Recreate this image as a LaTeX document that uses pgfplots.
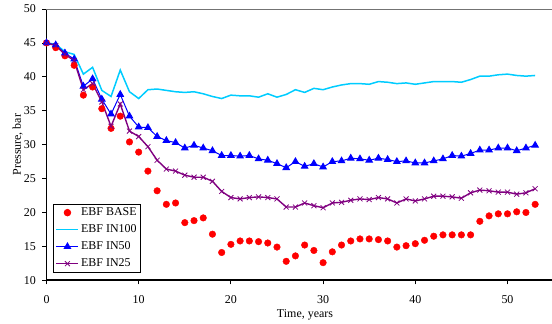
\documentclass[border=0pt]{standalone}
\usepackage{pgfplots}
\pgfplotsset{compat=1.18}
\usepackage{fontspec}
\setmainfont{Liberation Serif}
\definecolor{c100}{RGB}{0,204,255}
\definecolor{c50}{RGB}{0,0,255}
\definecolor{c25}{RGB}{128,0,128}
\begin{document}
\begin{tikzpicture}
\begin{axis}[
  scale only axis,
  width=507.1bp, height=271.3bp,
  xmin=0, xmax=55, ymin=10, ymax=50,
  axis lines=left,
  axis line style={-},
  x axis line style={line width=2bp},
  y axis line style={line width=1bp},
  xtick={0,10,20,30,40,50},
  ytick={10,15,20,25,30,35,40,45,50},
  tick align=outside,
  major tick length=4bp,
  tick style={black, line width=0.8bp},
  /pgf/number format/assume math mode=true,
  tick label style={font=\fontsize{12}{13}\selectfont},
  xticklabel style={anchor=base, yshift=-19bp, inner sep=0pt},
  yticklabel style={anchor=east, xshift=-6.5bp, inner sep=0pt},
  xlabel={Time, years},
  ylabel={Pressure, bar},
  xlabel style={at={(rel axis cs:0,0)}, anchor=base, xshift=258.5bp, yshift=-36.7bp, font=\fontsize{12}{13}\selectfont, inner sep=0pt},
  ylabel style={at={(rel axis cs:0,0.5)}, anchor=south, yshift=23.5bp, font=\fontsize{12}{13}\selectfont, inner sep=0pt},
  clip=false,
  legend cell align=left,
  legend style={at={(rel axis cs:0,0)}, anchor=south west, xshift=6.8bp, yshift=8bp,
    font=\fontsize{12}{13}\selectfont, draw=black, line width=0.8bp, fill=white,
    inner xsep=2bp, inner ysep=1.5bp, row sep=3.6bp},
  legend image code/.code={\draw[mark repeat=2,mark phase=2,#1] plot coordinates {(0bp,0bp) (11bp,0bp) (22bp,0bp)};},
]
\coordinate (ll) at (rel axis cs:0,0);
\draw[gray!90!black, line width=1bp] (rel axis cs:0,1) -- (rel axis cs:1,1);
\addplot[only marks, mark=*, mark size=3.3bp, color=red] coordinates {
(0,45.0) (1,44.3) (2,43.1) (3,41.7) (4,37.3) (5,38.5) (6,35.3) (7,32.4) (8,34.2) (9,30.4)
(10,28.9) (11,26.1) (12,23.2) (13,21.2) (14,21.4) (15,18.5) (16,18.8) (17,19.2) (18,16.8) (19,14.1)
(20,15.3) (21,15.8) (22,15.8) (23,15.7) (24,15.5) (25,14.9) (26,12.8) (27,13.6) (28,15.2) (29,14.4)
(30,12.6) (31,14.2) (32,15.2) (33,15.8) (34,16.1) (35,16.1) (36,16.0) (37,15.8) (38,14.9) (39,15.1)
(40,15.4) (41,15.9) (42,16.5) (43,16.7) (44,16.7) (45,16.7) (46,16.7) (47,18.7) (48,19.5) (49,19.8)
(50,19.8) (51,20.1) (52,20.0) (53,21.2)
};
\addlegendentry{EBF BASE}
\addplot[no marks, color=c100, line width=1.5bp] coordinates {
(0,45.0) (1,44.8) (2,43.7) (3,43.3) (4,40.4) (5,41.4) (6,38.0) (7,37.1) (8,41.0) (9,37.8)
(10,36.8) (11,38.1) (12,38.2) (13,38.0) (14,37.8) (15,37.7) (16,37.8) (17,37.5) (18,37.1) (19,36.8)
(20,37.3) (21,37.2) (22,37.2) (23,37.0) (24,37.5) (25,37.0) (26,37.4) (27,38.1) (28,37.7) (29,38.3)
(30,38.1) (31,38.5) (32,38.8) (33,39.0) (34,39.0) (35,38.9) (36,39.3) (37,39.2) (38,39.0) (39,39.1)
(40,38.9) (41,39.1) (42,39.3) (43,39.3) (44,39.3) (45,39.2) (46,39.6) (47,40.1) (48,40.1) (49,40.3)
(50,40.4) (51,40.2) (52,40.1) (53,40.2)
};
\addlegendentry{EBF IN100}
\addplot[color=c50, line width=1bp, mark=triangle*, mark size=3.6bp, mark options={solid}] coordinates {
(0,45.0) (1,44.7) (2,43.5) (3,42.6) (4,38.6) (5,39.7) (6,36.7) (7,34.5) (8,37.4) (9,34.2)
(10,32.6) (11,32.5) (12,31.2) (13,30.6) (14,30.3) (15,29.5) (16,29.9) (17,29.5) (18,29.1) (19,28.4)
(20,28.4) (21,28.3) (22,28.4) (23,27.9) (24,27.7) (25,27.2) (26,26.6) (27,27.5) (28,26.8) (29,27.2)
(30,26.7) (31,27.5) (32,27.6) (33,28.0) (34,27.9) (35,27.7) (36,28.0) (37,27.8) (38,27.5) (39,27.6)
(40,27.3) (41,27.3) (42,27.6) (43,27.9) (44,28.4) (45,28.3) (46,28.7) (47,29.2) (48,29.2) (49,29.5)
(50,29.5) (51,29.1) (52,29.5) (53,29.9)
};
\addlegendentry{EBF IN50}
\addplot[color=c25, line width=1.4bp, mark=x, mark size=3.5bp, mark options={line width=0.8bp}] coordinates {
(0,45.0) (1,44.6) (2,43.3) (3,42.4) (4,38.1) (5,39.0) (6,36.3) (7,32.7) (8,36.0) (9,32.0)
(10,31.2) (11,29.7) (12,27.7) (13,26.4) (14,26.1) (15,25.5) (16,25.2) (17,25.2) (18,24.6) (19,23.1)
(20,22.2) (21,22.0) (22,22.2) (23,22.3) (24,22.2) (25,22.0) (26,20.8) (27,20.8) (28,21.4) (29,21.0)
(30,20.7) (31,21.4) (32,21.5) (33,21.8) (34,22.0) (35,21.9) (36,22.2) (37,22.0) (38,21.4) (39,22.0)
(40,21.7) (41,22.0) (42,22.4) (43,22.4) (44,22.3) (45,22.1) (46,22.9) (47,23.3) (48,23.2) (49,23.0)
(50,23.0) (51,22.7) (52,22.9) (53,23.5)
};
\addlegendentry{EBF IN25}
\end{axis}
\pgfresetboundingbox
\path[use as bounding box] (ll) ++(-46.5bp,-43.7bp) rectangle ++(552bp,324bp);
\end{tikzpicture}
\end{document}
